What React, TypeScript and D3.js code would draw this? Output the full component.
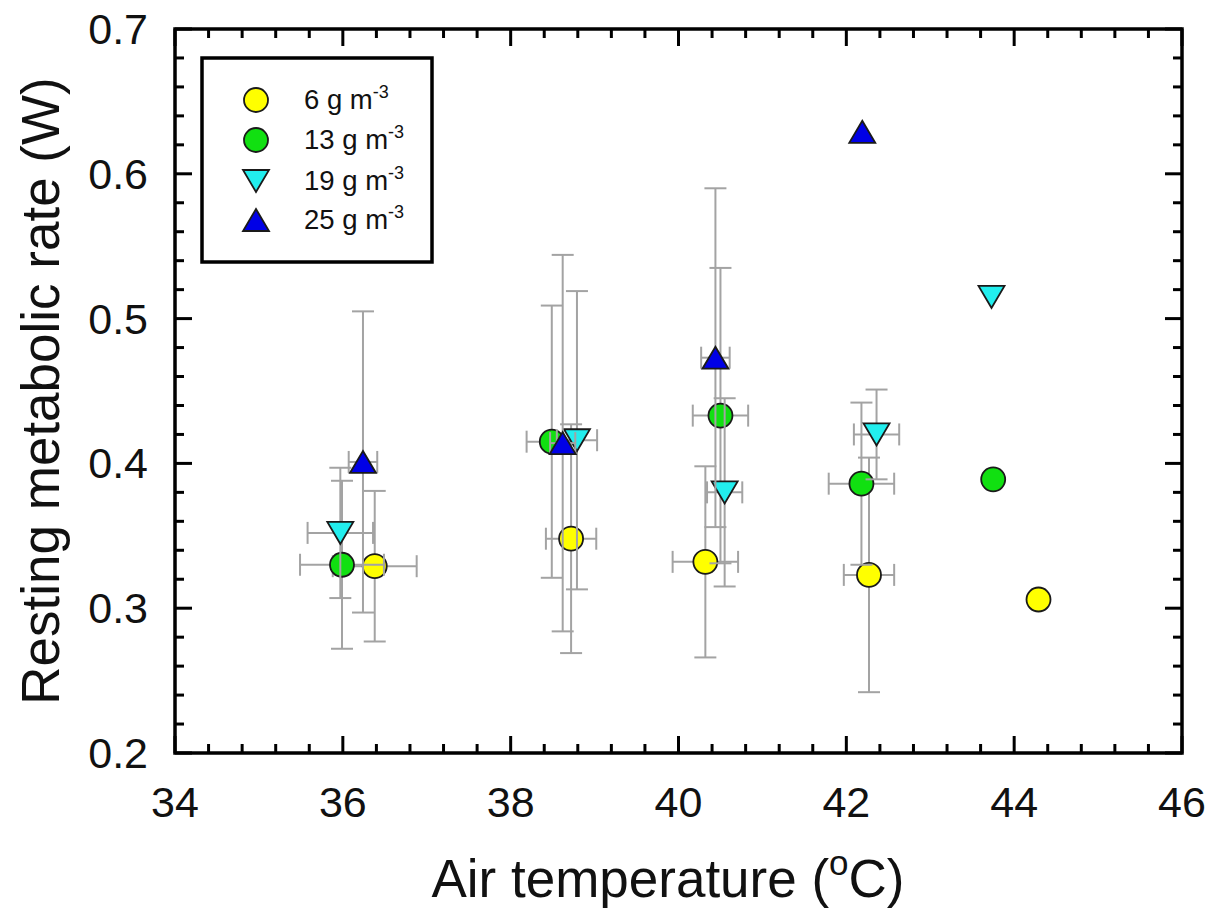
import React from "react";
import * as d3 from "d3";

// ---- data ----
const seriesNames = ["6", "13", "19", "25"];
const seriesColors = ["#ffff00", "#11e011", "#22eeee", "#0000e6"];
const seriesShapes = ["circle", "circle", "down", "up"];

const x6 = [36.38, 38.72, 40.32, 42.27, 44.29];
const y6 = [0.329, 0.348, 0.332, 0.323, 0.306];
const ye6 = [0.052, 0.079, 0.066, 0.081, 0];
const xe6 = [0.5, 0.3, 0.39, 0.3, 0];

const x13 = [35.99, 38.49, 40.5, 42.18, 43.75];
const y13 = [0.33, 0.415, 0.433, 0.386, 0.389];
const ye13 = [0.058, 0.094, 0.102, 0.056, 0];
const xe13 = [0.5, 0.3, 0.33, 0.39, 0];

const x19 = [35.97, 38.79, 40.55, 42.36, 43.73];
const y19 = [0.352, 0.416, 0.38, 0.42, 0.515];
const ye19 = [0.045, 0.103, 0.065, 0.031, 0];
const xe19 = [0.39, 0.24, 0.21, 0.27, 0];

const x25 = [36.24, 38.62, 40.44, 42.19];
const y25 = [0.401, 0.414, 0.473, 0.629];
const ye25 = [0.104, 0.13, 0.117, 0];
const xe25 = [0.17, 0.15, 0.17, 0];

const xTicks = [34, 36, 38, 40, 42, 44, 46];
const yTicks = [0.2, 0.3, 0.4, 0.5, 0.6, 0.7];

const seriesX = [x6, x13, x19, x25];
const seriesY = [y6, y13, y19, y25];
const seriesYE = [ye6, ye13, ye19, ye25];
const seriesXE = [xe6, xe13, xe19, xe25];

// ---- layout ----
const W = 1217, H = 912;
const L = 175, R = 1182, T = 29, B = 753;

const xs = d3.scaleLinear().domain([34, 46]).range([L, R]);
const ys = d3.scaleLinear().domain([0.2, 0.7]).range([B, T]);

function marker(shape: string, cx: number, cy: number, fill: string, key: string) {
  const stroke = "#1a1a1a";
  if (shape === "circle") {
    return <circle key={key} cx={cx} cy={cy} r={12} fill={fill} stroke={stroke} strokeWidth={1.8} />;
  }
  const hw = 13, hh = 11;
  const p = d3.path();
  if (shape === "up") {
    p.moveTo(cx, cy - hh); p.lineTo(cx + hw, cy + hh); p.lineTo(cx - hw, cy + hh); p.closePath();
  } else {
    p.moveTo(cx - hw, cy - hh); p.lineTo(cx + hw, cy - hh); p.lineTo(cx, cy + hh); p.closePath();
  }
  return <path key={key} d={p.toString()} fill={fill} stroke={stroke} strokeWidth={1.8} strokeLinejoin="miter" />;
}

export default function App() {
  const font = "'Liberation Sans', Arial, sans-serif";
  const xMinor = d3.range(34, 46.001, 0.4);
  const yMinor = d3.range(0.2, 0.7001, 0.02);
  const isMajorX = (v: number) => Math.abs(v / 2 - Math.round(v / 2)) < 1e-6;
  const isMajorY = (v: number) => Math.abs(v * 10 - Math.round(v * 10)) < 1e-6;

  const elems: React.ReactNode[] = [];
  const cap = 11;
  const ebColor = "#a3a3a3";
  seriesNames.forEach((n, si) => {
    const X = seriesX[si], Y = seriesY[si], YE = seriesYE[si], XE = seriesXE[si];
    X.forEach((xv, i) => {
      const cx = xs(xv), cy = ys(Y[i]);
      if (YE[i] > 0) {
        const y1 = ys(Y[i] + YE[i]), y2 = ys(Y[i] - YE[i]);
        elems.push(<g key={`ey${si}-${i}`} stroke={ebColor} strokeWidth={2}>
          <line x1={cx} x2={cx} y1={y1} y2={y2} />
          <line x1={cx - cap} x2={cx + cap} y1={y1} y2={y1} />
          <line x1={cx - cap} x2={cx + cap} y1={y2} y2={y2} />
        </g>);
      }
      if (XE[i] > 0) {
        const x1 = xs(xv - XE[i]), x2 = xs(xv + XE[i]);
        elems.push(<g key={`ex${si}-${i}`} stroke={ebColor} strokeWidth={2}>
          <line x1={x1} x2={x2} y1={cy} y2={cy} />
          <line x1={x1} x2={x1} y1={cy - cap} y2={cy + cap} />
          <line x1={x2} x2={x2} y1={cy - cap} y2={cy + cap} />
        </g>);
      }
    });
    X.forEach((xv, i) => {
      elems.push(marker(seriesShapes[si], xs(xv), ys(Y[i]), seriesColors[si], `m${si}-${i}`));
    });
  });

  const legendRows = [100, 140, 181, 220];

  return (
    <svg width={W} height={H} style={{ position: "absolute", left: 0, top: 0, background: "#fff" }} fontFamily={font}>
      <rect x={0} y={0} width={W} height={H} fill="#fff" />
      {elems}
      {/* frame */}
      <rect x={L} y={T} width={R - L} height={B - T} fill="none" stroke="#000" strokeWidth={3.5} />
      {/* ticks */}
      <g stroke="#000" strokeWidth={3}>
        {xMinor.map((v, i) => {
          const len = isMajorX(v) ? 17 : 9;
          const x = xs(v);
          return <g key={`xt${i}`}>
            <line x1={x} x2={x} y1={B} y2={B - len} />
            <line x1={x} x2={x} y1={T} y2={T + len} />
          </g>;
        })}
        {yMinor.map((v, i) => {
          const len = isMajorY(v) ? 17 : 9;
          const y = ys(v);
          return <g key={`yt${i}`}>
            <line x1={L} x2={L + len} y1={y} y2={y} />
            <line x1={R} x2={R - len} y1={y} y2={y} />
          </g>;
        })}
      </g>
      {/* tick labels */}
      {xTicks.map((v) => (
        <text key={`xl${v}`} x={xs(v)} y={817} textAnchor="middle" fontSize={43} fill="#111">{v}</text>
      ))}
      {yTicks.map((v) => (
        <text key={`yl${v}`} x={148} y={ys(v) + 15} textAnchor="end" fontSize={43} fill="#111">{v.toFixed(1)}</text>
      ))}
      {/* axis titles */}
      <text x={668} y={897} textAnchor="middle" fontSize={53} fill="#111">
        Air temperature (<tspan fontSize={35} dy={-22}>o</tspan><tspan dy={22}>C)</tspan>
      </text>
      <text transform={`translate(59, ${(T + B) / 2}) rotate(-90)`} textAnchor="middle" fontSize={53} fill="#111">
        Resting metabolic rate (W)
      </text>
      {/* legend */}
      <rect x={202} y={58} width={230} height={204} fill="#fff" stroke="#000" strokeWidth={3.5} />
      {seriesNames.map((n, i) => (
        <g key={`lg${i}`}>
          {marker(seriesShapes[i], 256, legendRows[i], seriesColors[i], `lm${i}`)}
          <text x={304} y={legendRows[i] + 9} fontSize={27.5} fill="#111">
            {n} g m<tspan fontSize={18} dy={-11}>-3</tspan>
          </text>
        </g>
      ))}
    </svg>
  );
}
